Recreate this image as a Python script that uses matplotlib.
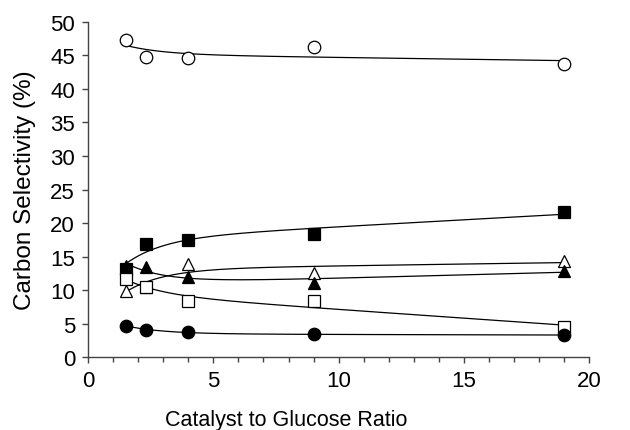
#!/usr/bin/env python3
"""Carbon selectivity versus catalyst to glucose ratio, with smooth trend curves."""

import matplotlib

matplotlib.use("Agg")
from matplotlib import pyplot as plt
from matplotlib.ticker import MultipleLocator
import numpy as np

plt.rcParams["font.family"] = ["Liberation Sans", "DejaVu Sans"]

ratio = np.array([1.5, 2.3, 4.0, 9.0, 19.0])

open_circles = [47.3, 44.7, 44.6, 46.3, 43.7]
filled_squares = [13.2, 16.9, 17.5, 18.4, 21.6]
open_triangles = [9.9, 10.5, 13.9, 12.5, 14.4]
filled_triangles = [13.6, 13.5, 12.0, 11.0, 12.9]
open_squares = [11.7, 10.5, 8.3, 8.3, 4.5]
filled_circles = [4.7, 4.1, 3.7, 3.4, 3.3]

# (values, marker, filled)
series = [
    (open_circles, "o", False),
    (filled_squares, "s", True),
    (open_triangles, "^", False),
    (filled_triangles, "^", True),
    (open_squares, "s", False),
    (filled_circles, "o", True),
]


def _trend(x, y, grid, scale=1.5):
    # least-squares fit on a + b*exp(-x/scale) + c*x: quick early change, then linear drift
    def design(v):
        return np.column_stack([np.ones_like(v), np.exp(-v / scale), v])

    coef, *_ = np.linalg.lstsq(design(x), np.asarray(y, dtype=float), rcond=None)
    return design(grid) @ coef


fig = plt.figure(figsize=(6.3, 4.31), dpi=100)
ax = fig.add_axes([0.14, 0.169, 0.795, 0.778])

grid = np.linspace(ratio[0], ratio[-1], 300)
for values, marker, filled in series:
    ax.plot(grid, _trend(ratio, values, grid), color="black", linewidth=0.9, zorder=2)
    ax.plot(
        ratio,
        values,
        linestyle="none",
        marker=marker,
        markersize=9,
        markerfacecolor="black" if filled else "white",
        markeredgecolor="black",
        markeredgewidth=0.9,
        zorder=3,
    )

ax.set_xlim(0, 20)
ax.set_ylim(0, 50)
ax.xaxis.set_major_locator(MultipleLocator(5))
ax.xaxis.set_minor_locator(MultipleLocator(1))
ax.yaxis.set_major_locator(MultipleLocator(5))
for side in ("top", "right"):
    ax.spines[side].set_visible(False)
for side in ("left", "bottom"):
    ax.spines[side].set_color("#444444")
    ax.spines[side].set_linewidth(1.0)
ax.tick_params(axis="both", which="major", direction="out", length=4.5, width=1.0,
               color="#444444", labelsize=16)
ax.tick_params(axis="y", which="major", pad=5)
ax.tick_params(axis="x", which="major", pad=5)
ax.tick_params(axis="x", which="minor", direction="out", length=3.5, width=1.0, color="#444444")
ax.set_xlabel("Catalyst to Glucose Ratio", fontsize=15.5, labelpad=12)
ax.xaxis.set_label_coords(0.395, -0.155)
ax.set_ylabel("Carbon Selectivity (%)", fontsize=17.5, labelpad=10)

fig.savefig("out.png", dpi=100, facecolor="white")
